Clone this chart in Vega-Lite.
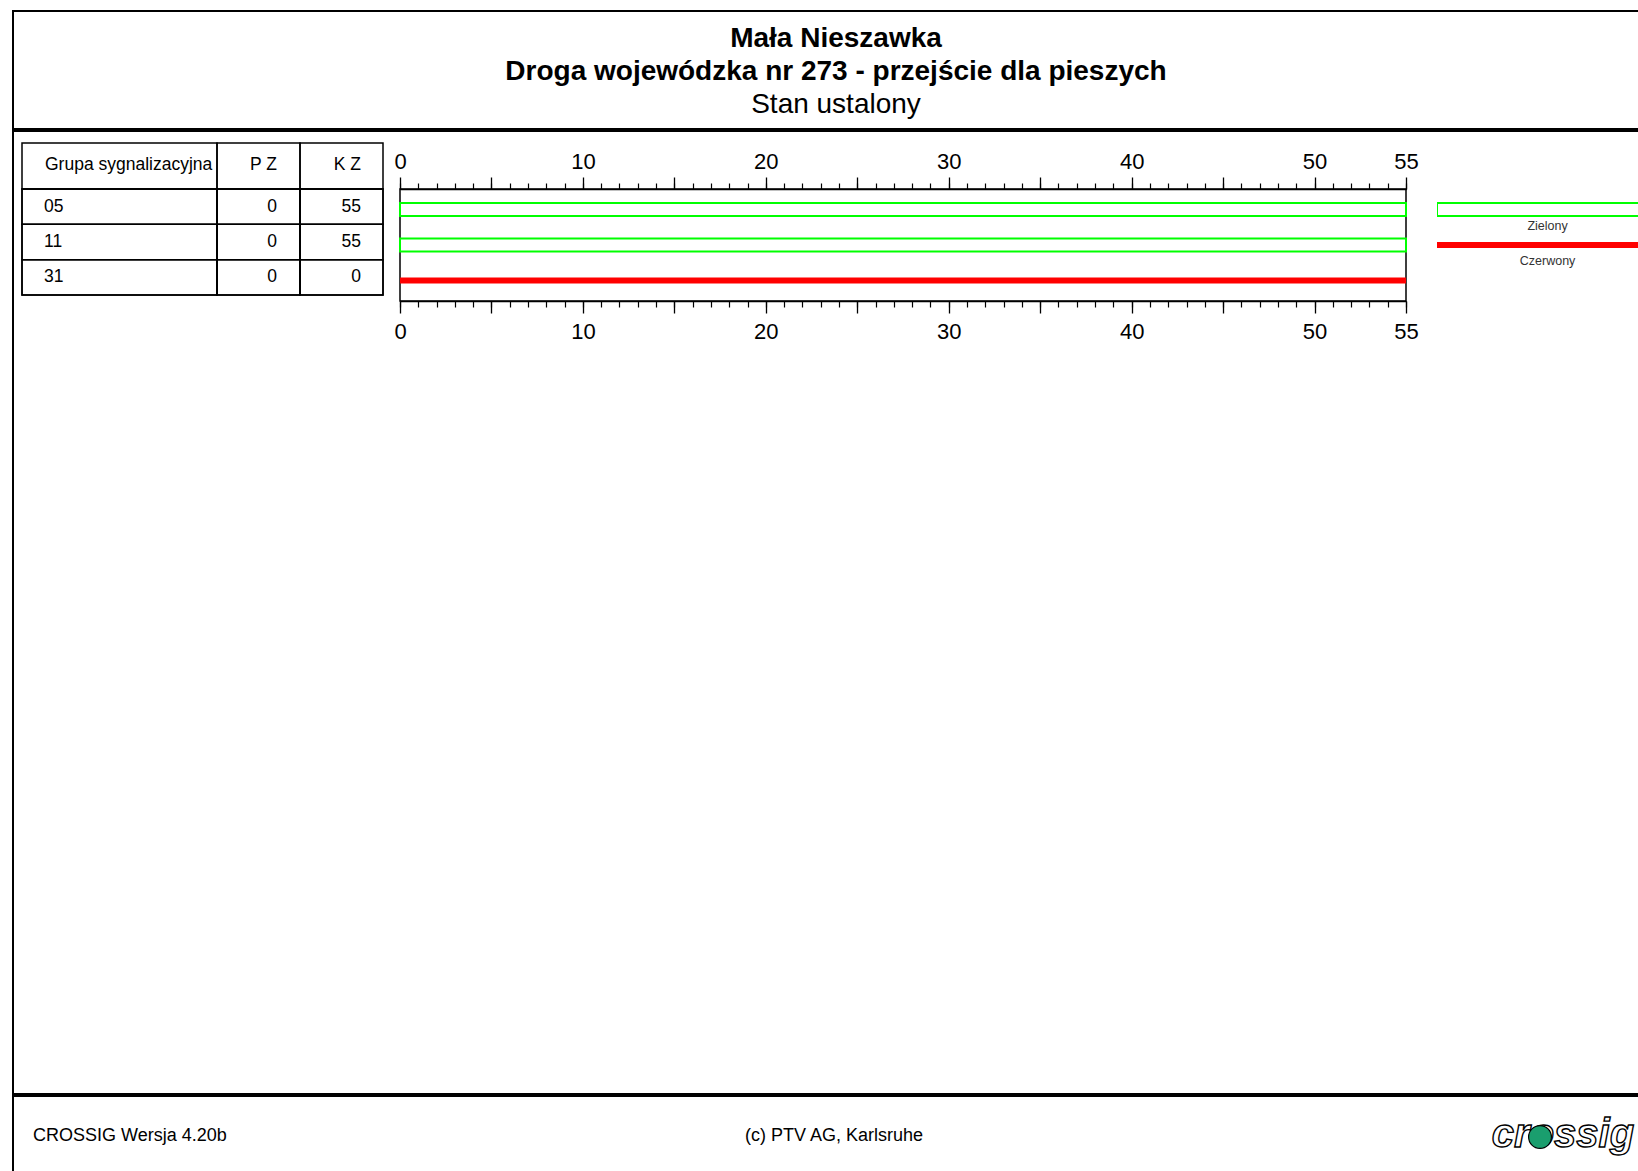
{
  "$schema": "https://vega.github.io/schema/vega-lite/v6.json",
  "background": "white",
  "padding": {"left": 12, "top": 10, "right": 0, "bottom": 0},
  "config": {"font": "Liberation Sans", "view": {"stroke": null}, "text": {"color": "black"}},
  "datasets": {
    "tabela": [
      {"grupa": "05", "pz": 0, "kz": 55},
      {"grupa": "11", "pz": 0, "kz": 55},
      {"grupa": "31", "pz": 0, "kz": 0}
    ],
    "segmenty": [
      {"grupa": "05", "stan": "Zielony", "od": 0, "do": 55},
      {"grupa": "11", "stan": "Zielony", "od": 0, "do": 55},
      {"grupa": "31", "stan": "Czerwony", "od": 0, "do": 55}
    ],
    "legenda": [{"stan": "Zielony"}, {"stan": "Czerwony"}],
    "naglowek": [
      {"nr": 1, "tekst": "Mała Nieszawka"},
      {"nr": 2, "tekst": "Droga wojewódzka nr 273 - przejście dla pieszych"},
      {"nr": 3, "tekst": "Stan ustalony"}
    ],
    "kolumny": [
      {"kolumna": "Grupa sygnalizacyjna"},
      {"kolumna": "P Z"},
      {"kolumna": "K Z"}
    ],
    "stopka": [
      {"element": "wersja", "tekst": "CROSSIG Wersja 4.20b"},
      {"element": "prawa", "tekst": "(c) PTV AG, Karlsruhe"},
      {"element": "logo", "tekst": "crossig"}
    ]
  },
  "spacing": 0,
  "hconcat": [
    {"width": 2, "height": 1161, "view": {"fill": "black", "stroke": null}, "data": {"values": []}, "mark": "point"},
    {
      "spacing": 0,
      "vconcat": [
        {"width": 1624, "height": 2, "view": {"fill": "black", "stroke": null}, "data": {"values": []}, "mark": "point"},
        {
          "width": 1624, "height": 116,
          "data": {"name": "naglowek"},
          "encoding": {
            "y": {"field": "nr", "type": "ordinal", "scale": {"type": "point", "padding": 0.758}, "axis": null},
            "text": {"field": "tekst"}
          },
          "layer": [
            {"transform": [{"filter": "datum.nr <= 2"}], "mark": {"type": "text", "fontSize": 28, "fontWeight": "bold", "dx": 10, "dy": 2}},
            {"transform": [{"filter": "datum.nr === 3"}], "mark": {"type": "text", "fontSize": 28, "dx": 10, "dy": 2}}
          ]
        },
        {"width": 1624, "height": 4, "view": {"fill": "black", "stroke": null}, "data": {"values": []}, "mark": "point"},
        {"width": 1624, "height": 10, "data": {"values": []}, "mark": "point"},
        {
          "columns": 8, "align": "each", "bounds": "flush", "spacing": 0,
          "concat": [
            {"width": 8, "height": 46, "data": {"values": []}, "mark": "point"},
            {"width": 195, "height": 46, "view": {"stroke": "black", "strokeWidth": 1.5},
             "data": {"name": "kolumny"}, "transform": [{"filter": "datum.kolumna === 'Grupa sygnalizacyjna'"}],
             "mark": {"type": "text", "fontSize": 17.5, "align": "left", "dx": -74.5, "dy": -1.5}, "encoding": {"text": {"field": "kolumna"}}},
            {"width": 83, "height": 46, "view": {"stroke": "black", "strokeWidth": 1.5},
             "data": {"name": "kolumny"}, "transform": [{"filter": "datum.kolumna === 'P Z'"}],
             "mark": {"type": "text", "fontSize": 17.5, "align": "right", "dx": 18.5, "dy": -1.5}, "encoding": {"text": {"field": "kolumna"}}},
            {"width": 83, "height": 46, "view": {"stroke": "black", "strokeWidth": 1.5},
             "data": {"name": "kolumny"}, "transform": [{"filter": "datum.kolumna === 'K Z'"}],
             "mark": {"type": "text", "fontSize": 17.5, "align": "right", "dx": 19.5, "dy": -1.5}, "encoding": {"text": {"field": "kolumna"}}},
            {"width": 17, "height": 46, "data": {"values": []}, "mark": "point"},
            {"width": 1006, "height": 46, "data": {"values": []}, "mark": "point"},
            {"width": 31, "height": 46, "data": {"values": []}, "mark": "point"},
            {"width": 201, "height": 46, "data": {"values": []}, "mark": "point"},

            {"width": 8, "height": 112, "data": {"values": []}, "mark": "point"},
            {"width": 195, "height": 106, "view": {"stroke": "black", "strokeWidth": 1.5},
             "data": {"name": "tabela"},
             "encoding": {"y": {"field": "grupa", "type": "nominal", "scale": {"paddingInner": 0, "paddingOuter": 0}, "axis": null}},
             "layer": [
               {"mark": {"type": "rect", "filled": false, "stroke": "black", "strokeWidth": 1.5}},
               {"mark": {"type": "text", "fontSize": 17.5, "align": "left", "dx": -75.5}, "encoding": {"text": {"field": "grupa"}}}
             ]},
            {"width": 83, "height": 106, "view": {"stroke": "black", "strokeWidth": 1.5},
             "data": {"name": "tabela"},
             "encoding": {"y": {"field": "grupa", "type": "nominal", "scale": {"paddingInner": 0, "paddingOuter": 0}, "axis": null}},
             "layer": [
               {"mark": {"type": "rect", "filled": false, "stroke": "black", "strokeWidth": 1.5}},
               {"mark": {"type": "text", "fontSize": 17.5, "align": "right", "dx": 18.5}, "encoding": {"text": {"field": "pz"}}}
             ]},
            {"width": 83, "height": 106, "view": {"stroke": "black", "strokeWidth": 1.5},
             "data": {"name": "tabela"},
             "encoding": {"y": {"field": "grupa", "type": "nominal", "scale": {"paddingInner": 0, "paddingOuter": 0}, "axis": null}},
             "layer": [
               {"mark": {"type": "rect", "filled": false, "stroke": "black", "strokeWidth": 1.5}},
               {"mark": {"type": "text", "fontSize": 17.5, "align": "right", "dx": 19.5}, "encoding": {"text": {"field": "kz"}}}
             ]},
            {"width": 17, "height": 112, "data": {"values": []}, "mark": "point"},
            {
              "width": 1006, "height": 112,
              "view": {"stroke": "black", "strokeWidth": 1.5},
              "data": {"name": "segmenty"},
              "encoding": {
                "y": {"field": "grupa", "type": "nominal", "scale": {"domain": ["05", "11", "31"], "paddingInner": 0, "paddingOuter": 0.077}, "axis": null}
              },
              "layer": [
                {
                  "transform": [{"filter": "datum.stan === 'Zielony'"}],
                  "mark": {"type": "bar", "height": 13, "fill": "white", "stroke": "#00ff00", "strokeWidth": 2},
                  "encoding": {
                    "x": {"field": "od", "type": "quantitative", "scale": {"domain": [0, 55], "nice": false, "zero": false},
                      "axis": {"orient": "top", "values": [0, 5, 10, 15, 20, 25, 30, 35, 40, 45, 50, 55],
                        "labelExpr": "datum.value % 10 === 0 || datum.value === 55 ? datum.label : ''",
                        "tickSize": 12, "tickColor": "black", "tickWidth": 1.3, "domainColor": "black", "domainWidth": 1.5,
                        "labelFontSize": 22, "labelColor": "black", "labelPadding": 4, "labelFlush": false, "labelOverlap": false,
                        "labelBound": false, "grid": false, "title": null}},
                    "x2": {"field": "do"}
                  }
                },
                {
                  "transform": [{"filter": "datum.stan === 'Czerwony'"}],
                  "mark": {"type": "bar", "height": 6, "fill": "#ff0000"},
                  "encoding": {
                    "x": {"field": "od", "type": "quantitative",
                      "axis": {"orient": "bottom", "values": [0, 5, 10, 15, 20, 25, 30, 35, 40, 45, 50, 55],
                        "labelExpr": "datum.value % 10 === 0 || datum.value === 55 ? datum.label : ''",
                        "tickSize": 12, "tickColor": "black", "tickWidth": 1.3, "domainColor": "black", "domainWidth": 1.5,
                        "labelFontSize": 22, "labelColor": "black", "labelPadding": 8, "labelFlush": false, "labelOverlap": false,
                        "labelBound": false, "grid": false, "title": null}},
                    "x2": {"field": "do"}
                  }
                },
                {
                  "mark": {"type": "point", "opacity": 0},
                  "encoding": {
                    "x": {"field": "od", "type": "quantitative",
                      "axis": {"orient": "top", "values": [0,1,2,3,4,5,6,7,8,9,10,11,12,13,14,15,16,17,18,19,20,21,22,23,24,25,26,27,28,29,30,31,32,33,34,35,36,37,38,39,40,41,42,43,44,45,46,47,48,49,50,51,52,53,54,55],
                        "tickSize": 6, "tickColor": "black", "tickWidth": 1.2, "labels": false, "domain": false, "grid": false, "title": null}}
                  }
                },
                {
                  "mark": {"type": "point", "opacity": 0},
                  "encoding": {
                    "x": {"field": "do", "type": "quantitative",
                      "axis": {"orient": "bottom", "values": [0,1,2,3,4,5,6,7,8,9,10,11,12,13,14,15,16,17,18,19,20,21,22,23,24,25,26,27,28,29,30,31,32,33,34,35,36,37,38,39,40,41,42,43,44,45,46,47,48,49,50,51,52,53,54,55],
                        "tickSize": 6, "tickColor": "black", "tickWidth": 1.2, "labels": false, "domain": false, "grid": false, "title": null}}
                  }
                }
              ],
              "resolve": {"axis": {"x": "independent"}}
            },
            {"width": 31, "height": 112, "data": {"values": []}, "mark": "point"},
            {
              "width": 201, "height": 112,
              "data": {"name": "legenda"},
              "encoding": {
                "y": {"field": "stan", "type": "nominal", "scale": {"domain": ["Zielony", "Czerwony"], "paddingInner": 0, "paddingOuter": 0.577, "align": 0.067}, "axis": null}
              },
              "layer": [
                {
                  "transform": [{"filter": "datum.stan === 'Zielony'"}],
                  "mark": {"type": "bar", "height": 13, "fill": "white", "stroke": "#00ff00", "strokeWidth": 2, "clip": true},
                  "encoding": {
                    "x": {"datum": 0, "type": "quantitative", "scale": {"domain": [0, 1], "nice": false, "zero": false}, "axis": null},
                    "x2": {"datum": 1.1}
                  }
                },
                {
                  "transform": [{"filter": "datum.stan === 'Czerwony'"}],
                  "mark": {"type": "bar", "height": 6, "fill": "#ff0000", "clip": true},
                  "encoding": {
                    "x": {"datum": 0, "type": "quantitative"},
                    "x2": {"datum": 1.1}
                  }
                },
                {
                  "mark": {"type": "text", "fontSize": 12.5, "color": "#333333", "dy": 16},
                  "encoding": {
                    "x": {"datum": 0.55, "type": "quantitative"},
                    "text": {"field": "stan"}
                  }
                }
              ]
            },

            {"width": 8, "height": 792, "data": {"values": []}, "mark": "point"}
          ]
        },
        {"width": 1624, "height": 4, "view": {"fill": "black", "stroke": null}, "data": {"values": []}, "mark": "point"},
        {
          "width": 1624, "height": 74,
          "data": {"name": "stopka"},
          "layer": [
            {"transform": [{"filter": "datum.element === 'wersja'"}],
             "mark": {"type": "text", "align": "left", "dx": -793, "dy": 1.5, "fontSize": 18},
             "encoding": {"text": {"field": "tekst"}}},
            {"transform": [{"filter": "datum.element === 'prawa'"}],
             "mark": {"type": "text", "align": "center", "dx": 8, "dy": 1.5, "fontSize": 18},
             "encoding": {"text": {"field": "tekst"}}},
            {"transform": [{"filter": "datum.element === 'logo'"}],
             "mark": {"type": "text", "align": "center", "dx": 737, "dy": 1, "fontSize": 40, "fontStyle": "italic", "fontWeight": "bold", "fill": "white", "stroke": "black", "strokeWidth": 1.4},
             "encoding": {"text": {"field": "tekst"}}},
            {"transform": [{"filter": "datum.element === 'logo'"}],
             "mark": {"type": "point", "shape": "circle", "size": 520, "filled": true, "fill": "#1a9e6e", "stroke": "black", "strokeWidth": 1.2, "opacity": 1, "xOffset": 714, "yOffset": 3}}
          ]
        }
      ]
    }
  ]
}
